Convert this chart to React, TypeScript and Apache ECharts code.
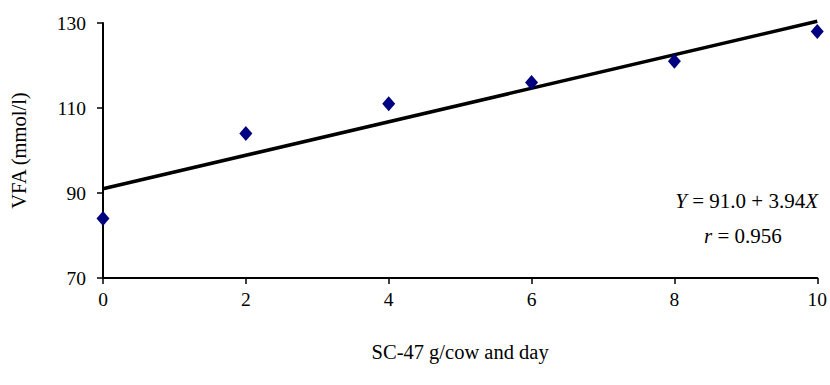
import React, { useEffect, useRef } from "react";
import * as echarts from "echarts";

const doses = [0, 2, 4, 6, 8, 10];
const vfaValues = [84, 104, 111, 116, 121, 128];
const fitX = [0, 10];
const fitY = [91.0, 130.4];
const yTicks = [70, 90, 110, 130];
const xTicks = [0, 2, 4, 6, 8, 10];

const FONT = "'Liberation Serif', 'Times New Roman', serif";

export default function App() {
  const ref = useRef<HTMLDivElement>(null);
  useEffect(() => {
    document.body.style.margin = "0";
    if (!ref.current) return;
    const chart = echarts.init(ref.current, null, { renderer: "svg" });
    chart.setOption({
      animation: false,
      backgroundColor: "#ffffff",
      textStyle: { fontFamily: FONT },
      grid: { left: 101, right: 12, top: 23, bottom: 107, containLabel: false },
      xAxis: {
        type: "value",
        min: 0,
        max: 10,
        interval: 2,
        name: "SC-47 g/cow and day",
        nameLocation: "middle",
        nameGap: 63,
        nameTextStyle: { fontFamily: FONT, fontSize: 20.5, color: "#000" },
        axisLine: { show: true, lineStyle: { color: "#000", width: 2 } },
        axisTick: { show: true, inside: false, length: 6, lineStyle: { color: "#000", width: 1.5 }, customValues: xTicks },
        axisLabel: { fontFamily: FONT, fontSize: 19.5, color: "#000", margin: 11, customValues: xTicks },
        splitLine: { show: false },
      },
      yAxis: {
        type: "value",
        min: 70,
        max: 130,
        name: "VFA (mmol/l)",
        nameLocation: "middle",
        nameGap: 74,
        nameRotate: 90,
        nameTextStyle: { fontFamily: FONT, fontSize: 20.5, color: "#000" },
        axisLine: { show: true, lineStyle: { color: "#000", width: 2 } },
        axisTick: { show: true, inside: false, length: 6, lineStyle: { color: "#000", width: 1.5 }, customValues: yTicks },
        axisLabel: { fontFamily: FONT, fontSize: 19.5, color: "#000", margin: 17, customValues: yTicks },
        splitLine: { show: false },
      },
      series: [
        {
          type: "line",
          data: fitX.map((x, i) => [x, fitY[i]]),
          symbol: "none",
          clip: false,
          lineStyle: { color: "#000", width: 3.5 },
          z: 2,
        },
        {
          type: "scatter",
          data: doses.map((x, i) => [x, vfaValues[i]]),
          symbol: "diamond",
          symbolSize: [13, 15],
          itemStyle: { color: "#000080", opacity: 1 },
          clip: false,
          z: 3,
        },
      ],
      graphic: [
        {
          type: "text",
          right: 12,
          top: 190,
          style: {
            text: "{i|Y} = 91.0 + 3.94{i|X}",
            rich: {
              i: { fontStyle: "italic", fontFamily: FONT, fontSize: 21, fill: "#000" },
            },
            font: `21px ${FONT}`,
            fill: "#000",
          },
        },
        {
          type: "text",
          left: 704,
          top: 225,
          style: {
            text: "{i|r} = 0.956",
            rich: {
              i: { fontStyle: "italic", fontFamily: FONT, fontSize: 21, fill: "#000" },
            },
            font: `21px ${FONT}`,
            fill: "#000",
          },
        },
      ],
    });
    return () => chart.dispose();
  }, []);
  return <div ref={ref} style={{ width: 830, height: 385 }} />;
}
